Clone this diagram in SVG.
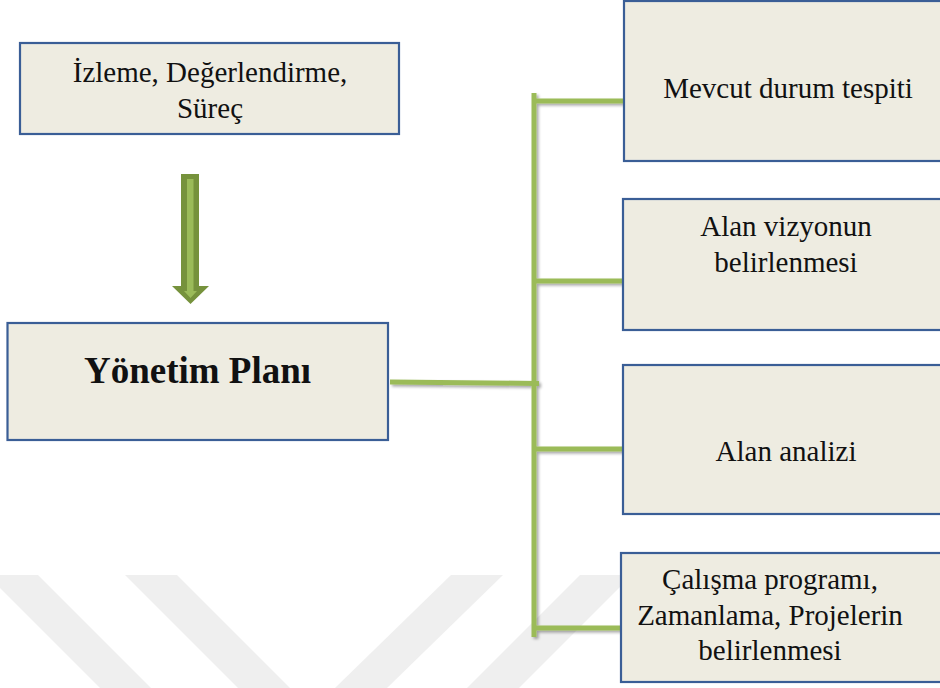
<svg xmlns="http://www.w3.org/2000/svg" width="940" height="688" viewBox="0 0 940 688">
<style>
.box{fill:#EEECE1;stroke:#3A5E96;stroke-width:2.2}
.t{font-family:"Liberation Serif","Times New Roman",serif;font-size:29px;fill:#111;text-anchor:middle}
.tb{font-family:"Liberation Serif","Times New Roman",serif;font-size:37px;font-weight:bold;fill:#111;text-anchor:middle}
.ln{stroke:#9BBB59;stroke-width:5;fill:none;stroke-linecap:butt}
.wm{fill:#EFEFEF}
</style>
<defs>
<filter id="sh" x="-20%" y="-20%" width="140%" height="140%">
<feGaussianBlur in="SourceAlpha" stdDeviation="1.5"/>
<feOffset dx="1.5" dy="2" result="b"/>
<feComponentTransfer><feFuncA type="linear" slope="0.35"/></feComponentTransfer>
<feMerge><feMergeNode/><feMergeNode in="SourceGraphic"/></feMerge>
</filter>
</defs>
<rect width="940" height="688" fill="#ffffff"/>
<g id="watermark">
<polygon class="wm" points="-13,575 38,575 151,688 100,688"/>
<polygon class="wm" points="125,575 177,575 290,688 238,688"/>
<polygon class="wm" points="451,575 503,575 387,688 335,688"/>
<polygon class="wm" points="580,575 632,575 519,688 467,688"/>
</g>
<g id="connectors" filter="url(#sh)">
<line class="ln" x1="534" y1="93" x2="534" y2="637"/>
<line class="ln" x1="534" y1="101" x2="623" y2="101"/>
<line class="ln" x1="534" y1="281" x2="623" y2="281"/>
<line class="ln" x1="390" y1="382" x2="539" y2="383.5"/>
<line class="ln" x1="534" y1="449" x2="623" y2="449"/>
<line class="ln" x1="536" y1="628" x2="623" y2="628"/>
</g>
<g id="arrow">
<polygon fill="#76923C" points="181,174 199,174 199,286 209,286 190.5,304 172,286 181,286"/>
<polygon fill="#9BBB59" points="187,179 193.5,179 193.5,291 197,291 190.5,298 184,291 187,291"/>
</g>
<g id="izleme">
<rect class="box" x="20" y="43" width="379" height="91"/>
<text class="t" x="210" y="82">İzleme, Değerlendirme,</text>
<text class="t" x="210" y="118">Süreç</text>
</g>
<g id="yonetim">
<rect class="box" x="7.5" y="323" width="380.5" height="117"/>
<text class="tb" x="197.5" y="383">Yönetim Planı</text>
</g>
<g id="mevcut">
<rect class="box" x="624" y="1" width="330" height="160"/>
<text class="t" x="788" y="98">Mevcut durum tespiti</text>
</g>
<g id="vizyon">
<rect class="box" x="623" y="199" width="330" height="131"/>
<text class="t" x="786" y="236">Alan vizyonun</text>
<text class="t" x="786" y="272">belirlenmesi</text>
</g>
<g id="analiz">
<rect class="box" x="623" y="365" width="330" height="149"/>
<text class="t" x="786" y="461">Alan analizi</text>
</g>
<g id="calisma">
<rect class="box" x="621" y="553" width="330" height="129"/>
<text class="t" x="770" y="589">Çalışma programı,</text>
<text class="t" x="770" y="625">Zamanlama, Projelerin</text>
<text class="t" x="770" y="660">belirlenmesi</text>
</g>
</svg>
